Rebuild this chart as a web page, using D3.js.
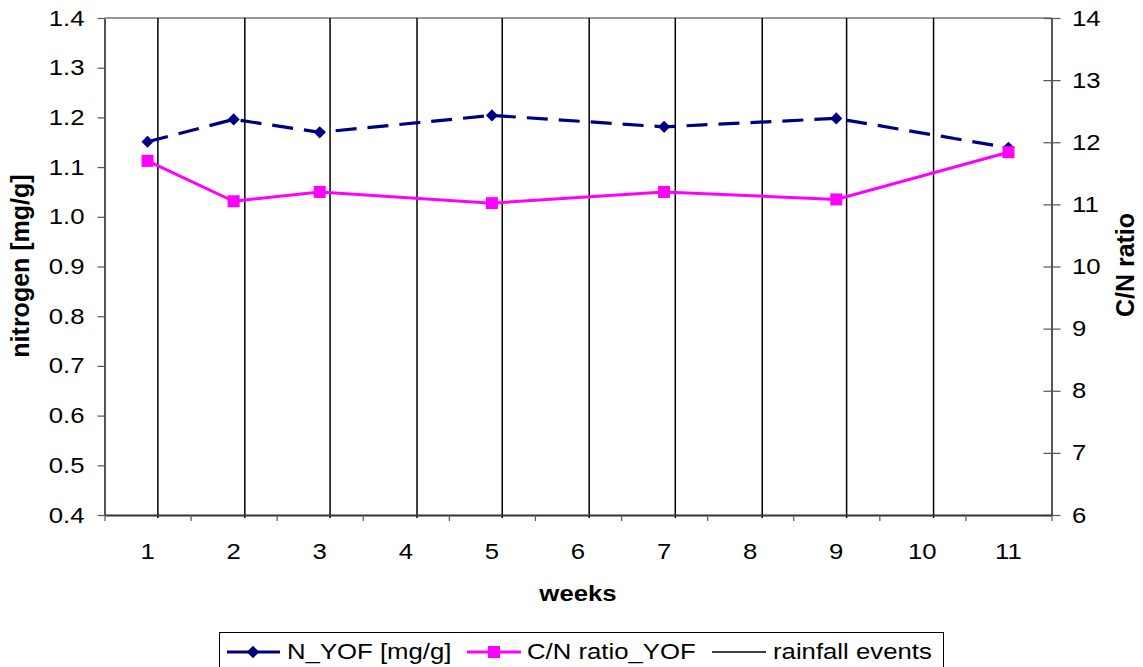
<!DOCTYPE html>
<html><head><meta charset="utf-8">
<script src="https://cdn.jsdelivr.net/npm/d3@7"></script>
<style>
html,body{margin:0;padding:0;background:#fff;}
svg{display:block;font-family:"Liberation Sans",Arial,sans-serif;}
</style></head>
<body>
<svg id="chart" width="1143" height="667"></svg>
<script>
// ---- data ----
const weeks = ["1","2","3","4","5","6","7","8","9","10","11"];
const sampleWeeks = [1, 2, 3, 5, 7, 9, 11];
const nitrogen = [1.151, 1.196, 1.170, 1.204, 1.181, 1.198, 1.139];
const cnRatio = [11.70, 11.05, 11.20, 11.02, 11.20, 11.08, 11.84];
const rainfallEvents = [1.12, 2.13, 3.12, 4.13, 5.12, 6.13, 7.13, 8.14, 9.12, 10.13];
const leftTicks = [0.4,0.5,0.6,0.7,0.8,0.9,1.0,1.1,1.2,1.3,1.4];
const rightTicks = [6,7,8,9,10,11,12,13,14];
const legendLabels = ["N_YOF [mg/g]", "C/N ratio_YOF", "rainfall events"];

// ---- layout ----
const L = 104.5, R = 1051.5, T = 18, B = 515;
const SX = 1.17, FS = 22;
const svg = d3.select("#chart");

const x = d3.scaleBand().domain(weeks).range([L, R]).padding(0);
const xLin = d3.scaleLinear().domain([0.5, 11.5]).range([L, R]);
const yL = d3.scaleLinear().domain([0.4, 1.4]).range([B, T]);
const yR = d3.scaleLinear().domain([6, 14]).range([B, T]);
const cx = w => x(String(w)) + x.bandwidth() / 2;

function stretchText(sel) {
  sel.each(function() {
    const t = d3.select(this);
    const tx = +t.attr("x") || 0;
    t.attr("transform", `translate(${tx},0) scale(${SX},1) translate(${-tx},0)`);
  });
}

// top border
svg.append("line").attr("x1", L).attr("x2", R).attr("y1", T).attr("y2", T)
  .attr("stroke", "#999").attr("stroke-width", 2);

// rainfall lines
svg.append("g").selectAll("line").data(rainfallEvents).join("line")
  .attr("x1", d => xLin(d)).attr("x2", d => xLin(d))
  .attr("y1", T).attr("y2", B + 3)
  .attr("stroke", "#000").attr("stroke-width", 1.5);

// left axis
const gL = svg.append("g").attr("transform", `translate(${L},0)`)
  .call(d3.axisLeft(yL).tickValues(leftTicks).tickFormat(d3.format(".1f")).tickSize(7).tickSizeOuter(0).tickPadding(13));
gL.select(".domain").attr("stroke", "#555").attr("stroke-width", 2);
gL.selectAll(".tick line").attr("stroke", "#555").attr("stroke-width", 1.2);
gL.selectAll(".tick text").attr("font-size", FS).attr("fill", "#000")
  .attr("font-family", '"Liberation Sans",Arial,sans-serif').call(stretchText);

// right axis
const gR = svg.append("g").attr("transform", `translate(${R},0)`)
  .call(d3.axisRight(yR).tickValues(rightTicks).tickSize(9).tickSizeOuter(0).tickPadding(11.5));
gR.select(".domain").attr("stroke", "#555").attr("stroke-width", 2);
gR.selectAll(".tick line").attr("x1", -8).attr("stroke", "#555").attr("stroke-width", 1.2);
gR.selectAll(".tick text").attr("font-size", FS).attr("fill", "#000")
  .attr("font-family", '"Liberation Sans",Arial,sans-serif').call(stretchText);

// bottom axis: tick marks at boundaries
const gBt = svg.append("g").attr("transform", `translate(0,${B})`)
  .call(d3.axisBottom(xLin).tickValues(d3.range(0.5, 11.6, 1)).tickFormat("").tickSize(6).tickSizeOuter(0));
gBt.select(".domain").attr("stroke", "#333").attr("stroke-width", 2);
gBt.selectAll(".tick line").attr("stroke", "#555").attr("stroke-width", 1.2);
// labels at band centers
const gB = svg.append("g").attr("transform", `translate(0,${B})`)
  .call(d3.axisBottom(x).tickSize(0).tickPadding(28));
gB.select(".domain").remove();
gB.selectAll(".tick text").attr("font-size", FS).attr("fill", "#000")
  .attr("font-family", '"Liberation Sans",Arial,sans-serif').call(stretchText);

// N line (dashed navy)
const nData = sampleWeeks.map((w, i) => ({w, v: nitrogen[i]}));
const cData = sampleWeeks.map((w, i) => ({w, v: cnRatio[i]}));
svg.append("path").datum(nData)
  .attr("d", d3.line().x(d => cx(d.w)).y(d => yL(d.v)))
  .attr("fill", "none").attr("stroke", "#000080").attr("stroke-width", 3.2)
  .attr("stroke-dasharray", "21,11");
svg.append("path").datum(cData)
  .attr("d", d3.line().x(d => cx(d.w)).y(d => yR(d.v)))
  .attr("fill", "none").attr("stroke", "#FF00FF").attr("stroke-width", 3);

const diamond = d3.symbol().type(d3.symbolDiamond2 || d3.symbolSquare).size(60);
svg.append("g").selectAll("rect").data(nData).join("rect")
  .attr("x", -5.5).attr("y", -5.5).attr("width", 11).attr("height", 11)
  .attr("transform", d => `translate(${cx(d.w)},${yL(d.v)}) rotate(45) scale(0.78)`)
  .attr("fill", "#000080");
svg.append("g").selectAll("rect").data(cData).join("rect")
  .attr("x", d => cx(d.w) - 6).attr("y", d => yR(d.v) - 6)
  .attr("width", 12).attr("height", 12).attr("fill", "#FF00FF");

// axis titles
svg.append("text").attr("transform", `translate(578,601) scale(${SX},1)`)
  .attr("text-anchor", "middle").attr("font-weight", "bold").attr("font-size", FS).text("weeks");
svg.append("text").attr("transform", "translate(29,266) rotate(-90)")
  .attr("text-anchor", "middle").attr("font-weight", "bold").attr("font-size", 25).text("nitrogen [mg/g]");
svg.append("text").attr("transform", "translate(1134,265) rotate(-90)")
  .attr("text-anchor", "middle").attr("font-weight", "bold").attr("font-size", 25).text("C/N ratio");

// legend
const lg = svg.append("g");
lg.append("rect").attr("x", 219.5).attr("y", 632.5).attr("width", 724).attr("height", 40)
  .attr("fill", "#fff").attr("stroke", "#000").attr("stroke-width", 1);
const ly = 652;
// item 1
lg.append("line").attr("x1", 227).attr("x2", 280).attr("y1", ly).attr("y2", ly)
  .attr("stroke", "#000080").attr("stroke-width", 3);
lg.append("rect").attr("x", -4.5).attr("y", -4.5).attr("width", 9).attr("height", 9)
  .attr("transform", `translate(253,${ly}) rotate(45)`).attr("fill", "#000080");
// item 2
lg.append("line").attr("x1", 467).attr("x2", 521).attr("y1", ly).attr("y2", ly)
  .attr("stroke", "#FF00FF").attr("stroke-width", 3);
lg.append("rect").attr("x", 494 - 6).attr("y", ly - 6).attr("width", 12).attr("height", 12).attr("fill", "#FF00FF");
// item 3
lg.append("line").attr("x1", 712).attr("x2", 766).attr("y1", ly).attr("y2", ly)
  .attr("stroke", "#000").attr("stroke-width", 1.5);
const lx = [287, 527, 773];
legendLabels.forEach((t, i) => {
  lg.append("text").attr("transform", `translate(${lx[i]},${ly + 6.5}) scale(${SX},1)`)
    .attr("font-size", FS).attr("fill", "#000").text(t);
});
</script>
</body></html>
